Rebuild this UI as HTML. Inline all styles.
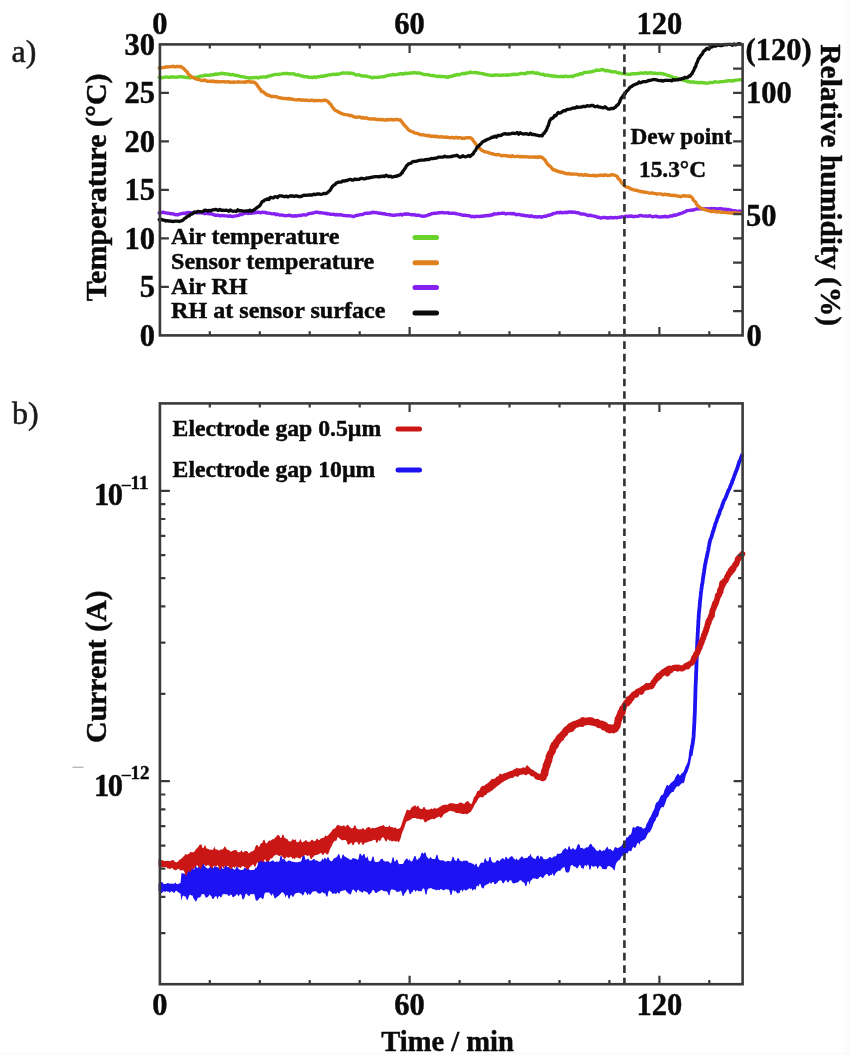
<!DOCTYPE html>
<html lang="en"><head><meta charset="utf-8"><title>Figure</title>
<style>
html,body{margin:0;padding:0;background:#fff;}
body{width:855px;height:1064px;overflow:hidden;}
svg{display:block;filter:blur(0.7px);}
</style></head><body>
<svg width="855" height="1064" viewBox="0 0 855 1064">
<rect width="855" height="1064" fill="#fff"/>
<rect x="844.3" y="0" width="1.8" height="1054.4" fill="#fcfcfc"/><rect x="846.8" y="0" width="2.4" height="1054.4" fill="#fbfbfb"/>
<rect x="0" y="1052.5" width="849.2" height="1.9" fill="#fbfbfb"/>
<rect x="72.5" y="766.6" width="11" height="1.4" fill="#b8b8b8"/>
<g fill="none" stroke-linecap="round" stroke-linejoin="round">
<polyline stroke="#8522f2" stroke-width="3.4" points="159.2,213 160.2,212.7 161.5,212.7 163,212.2 164.5,212.7 166,212.9 167.5,213.2 168.9,213.3 170.4,213.7 171.9,213.8 173.4,213.9 174.9,214.6 176.3,214.7 177.8,214.8 179.3,214.2 180.8,213.8 182.3,213.6 183.8,213.1 185.2,213.5 186.7,212.7 188.2,212.5 189.7,212.6 191.2,213 192.7,212.7 194.2,212.4 195.7,212.5 197.2,212.9 198.7,212.8 200.2,212.7 201.7,212.9 203.2,213.2 204.7,213.7 206.2,213.1 207.6,213.5 209.1,213.7 210.6,213.6 212.1,214.2 213.5,214.5 215,215.3 216.5,215.2 218,215.1 219.5,215.8 221,215.7 222.5,215.4 224,215.8 225.5,215.9 227,215.9 228.5,216.3 229.9,215.8 231.4,216.3 232.9,216.5 234.4,216.2 235.9,215.9 237.3,215.6 238.8,215.4 240.2,214.4 241.7,214.5 243.2,213.5 244.6,213.5 246.1,212.9 247.6,213.5 249.1,213.4 250.6,213 252.1,213.3 253.6,212.6 255.1,212.7 256.6,212.6 258.1,212.2 259.6,212.5 261.1,212.8 262.6,212 264.1,212.5 265.5,212.4 267,213.1 268.5,213.1 270,213.4 271.5,213.7 272.9,213.9 274.4,213.7 275.9,214.7 277.4,214.2 278.9,214.8 280.3,215.1 281.8,214.9 283.3,215.3 284.8,215.7 286.3,215.6 287.8,215.5 289.3,215.1 290.8,215.8 292.3,216 293.8,216 295.3,215.8 296.8,216 298.3,215.5 299.7,215.5 301.2,215.5 302.7,214.9 304.2,214.8 305.7,215.1 307.1,214.5 308.6,213.6 310,213.5 311.5,213.3 313,213.1 314.4,212.6 315.9,212.2 317.4,212.2 318.9,212.7 320.3,212.8 321.8,212.8 323.3,213.1 324.8,213.2 326.3,213.7 327.8,213.5 329.3,214 330.8,214.3 332.3,214.4 333.7,214.2 335.2,214.9 336.7,214.5 338.2,215 339.7,214.8 341.2,214.7 342.7,215.4 344.2,215.5 345.7,215.6 347.2,215.8 348.7,215.7 350.2,215.9 351.7,216.1 353.2,216.5 354.6,216.1 356.1,215.5 357.6,215.4 359,214.9 360.5,214.6 362,214.6 363.5,214 364.9,213.4 366.4,213.3 367.9,213.3 369.4,213 370.8,213 372.3,212.3 373.8,212.5 375.3,212.5 376.7,212.6 378.2,213.1 379.7,213.2 381.2,213.2 382.7,213.9 384.1,213.6 385.6,214.2 387.1,214.4 388.6,214.7 390.1,214.7 391.5,215.1 393,215.2 394.5,215.4 396,214.9 397.5,214.9 399,214.7 400.5,214.3 402,215.1 403.5,214.3 405,213.8 406.4,214.4 407.9,213.9 409.4,214.4 410.9,214.7 412.4,214.6 413.9,214.8 415.4,215 416.8,215.4 418.3,215.2 419.8,215.5 421.3,216 422.8,216.3 424.2,216 425.7,216 427.2,215.4 428.6,214.7 430.1,214.5 431.5,213.6 433,213.5 434.4,213.2 435.9,213.2 437.4,213.1 438.9,212.7 440.4,212.7 441.9,212.4 443.4,212.8 444.9,212.9 446.4,212.9 447.9,212.6 449.4,213.4 450.9,213.3 452.4,213.2 453.8,213.3 455.3,213.5 456.8,213.9 458.3,214.1 459.8,214.4 461.3,214.8 462.7,215.2 464.2,215.3 465.7,215.3 467.2,215.6 468.7,215.7 470.1,215.9 471.6,216.7 473.1,216.3 474.6,216.9 476.1,216.3 477.6,216.4 479.1,216.5 480.6,216.2 482.1,216.2 483.6,216 485.1,215.8 486.6,215.7 488.1,215.3 489.5,215.6 491,214.9 492.5,215.1 494,213.7 495.4,214.1 496.9,213.9 498.4,213.5 499.9,213.6 501.3,213.3 502.8,213.1 504.3,213.3 505.8,214 507.3,213.5 508.8,213.6 510.3,213.5 511.8,213.8 513.3,213.5 514.8,213.9 516.3,214.7 517.8,214.4 519.3,214.5 520.8,214.8 522.3,215.3 523.7,215.2 525.2,215.8 526.7,215.8 528.2,215.9 529.7,216.5 531.1,215.7 532.6,216.4 534.1,216.9 535.6,216.7 537.1,217 538.6,216.8 540.1,216.6 541.6,217.3 543,216.6 544.5,216.2 546,216.3 547.4,215.5 548.9,215.3 550.3,214.8 551.7,214.6 553.2,213.4 554.6,213.5 556,213 557.5,212.4 559,212.8 560.5,212.2 562,212.8 563.5,212.5 565,212.5 566.5,212.3 568,212.5 569.5,211.8 571,212.2 572.5,212 574,212.3 575.5,212.3 576.9,212.8 578.4,212.7 579.9,213.7 581.3,214.1 582.8,213.8 584.3,214.2 585.7,214.6 587.2,215.2 588.7,215.7 590.1,215.2 591.6,215.7 593.1,215.9 594.5,216.2 596,216.4 597.5,217.2 598.9,217.1 600.4,218 601.9,217.9 603.4,217.5 604.9,217.5 606.4,217.7 607.9,218.2 609.4,217.7 610.9,217.5 612.4,217.8 613.9,217.8 615.4,217.4 616.9,217.8 618.4,217.4 619.9,217.3 621.4,216.8 622.9,216.9 624.4,216.7 625.9,216.1 627.4,216.6 628.9,216 630.4,216.4 631.9,216 633.4,216.8 634.9,216.3 636.4,216.4 637.9,216.3 639.4,215.7 640.9,215.4 642.4,215.9 643.9,216.1 645.4,215.9 646.9,216.1 648.4,216.2 649.9,215.7 651.3,216.3 652.8,216.9 654.3,216.4 655.8,216.1 657.3,216.7 658.8,216.8 660.3,217.1 661.8,216.7 663.3,216.9 664.8,216.2 666.3,216.8 667.8,216.8 669.3,216.6 670.8,215.8 672.3,216.1 673.7,215 675.2,215.4 676.6,214.9 678,214.2 679.4,214 680.8,213.4 682.2,213.1 683.6,212.3 685.1,211.8 686.5,210.8 687.9,210.6 689.4,210.4 690.8,210.3 692.3,209.9 693.8,210 695.3,209.1 696.7,209 698.2,208.9 699.7,208.7 701.2,208.8 702.7,208.6 704.2,209.1 705.7,208.6 707.2,209 708.7,208.7 710.2,209.1 711.7,208.4 713.2,208.8 714.7,208.6 716.2,208.8 717.7,209.1 719.2,208.6 720.7,208.7 722.2,209 723.7,209.4 725.2,209.1 726.7,209.7 728.2,209.5 729.7,209.8 731.1,210.2 732.6,210.6 734.1,210.6 735.6,210.9 737.1,211.2 738.5,211.4 739.9,211 740.8,211.8"/>
<polyline stroke="#69d32c" stroke-width="3.4" points="159.2,77.4 160.2,77.6 161.5,77.8 163,77.4 164.5,77.2 166,76.9 167.5,77.1 169,77.3 170.5,77.3 172,76.8 173.5,77 175,77.1 176.5,77.3 178,76.9 179.5,76.8 181,76.8 182.5,77 184,77 185.5,77.4 187,77.6 188.5,77.6 190,77.8 191.5,77.4 193,77.6 194.5,77.4 196,77.3 197.4,77.3 198.9,76.7 200.4,76 201.9,76.1 203.3,75.7 204.8,75.2 206.3,75.2 207.8,75.4 209.3,75.4 210.8,74.7 212.2,74.9 213.7,74.8 215.2,74 216.7,74.2 218.2,74 219.7,73.9 221.2,73.3 222.7,73.5 224.2,73.8 225.7,73.8 227.2,74.2 228.6,73.9 230.1,74.7 231.6,74.7 233.1,74.4 234.5,75.2 236,75.2 237.5,75.7 239,75.9 240.4,76.5 241.9,76.6 243.4,76.7 244.8,77.3 246.3,77.5 247.8,77.6 249.3,78.2 250.7,77.8 252.2,77.8 253.7,77.7 255.2,77.4 256.7,77.5 258.2,78 259.7,77.2 261.2,77.4 262.7,76.9 264.2,76.9 265.7,77.2 267.2,76.7 268.6,76 270.1,75.9 271.6,75.3 273,75 274.5,74.7 276,74.4 277.4,74.4 278.9,74.3 280.4,74.1 281.9,73.8 283.4,73.4 284.9,73.6 286.4,73.3 287.9,73.7 289.4,73.7 290.9,73.9 292.3,73.9 293.8,73.8 295.3,74.7 296.8,75.1 298.2,74.7 299.7,75.4 301.2,76 302.6,75.9 304.1,76.9 305.5,76.6 307,76.6 308.5,77.4 310,77.2 311.5,77.1 313,77.5 314.5,76.7 316,77.5 317.5,76.7 319,76.7 320.4,76.3 321.9,76.3 323.4,76.2 324.9,75.5 326.4,75.7 327.9,75.2 329.3,74.9 330.8,74.8 332.3,74.4 333.8,74.2 335.3,74.5 336.8,74 338.3,74.2 339.8,73.8 341.3,73.3 342.7,72.9 344.2,73 345.7,73.1 347.2,73 348.7,72.9 350.2,73.6 351.6,73.2 353.1,73.6 354.6,74.3 356.1,75.1 357.5,74.9 359,74.9 360.5,75.5 361.9,75.8 363.4,76.1 364.9,76 366.4,76.1 367.9,76.6 369.4,76.9 370.9,77.4 372.3,77.8 373.8,77.2 375.3,77.4 376.8,77.4 378.3,77.2 379.8,77.1 381.2,76.9 382.7,76.6 384.2,76.7 385.7,76.1 387.2,75.6 388.7,75.2 390.1,75.2 391.6,74.9 393.1,74.5 394.6,74.9 396.1,74.6 397.6,74.3 399.1,74 400.6,73.7 402.1,73.7 403.5,74.2 405,73.1 406.5,73.5 408,73.5 409.5,73.2 411,72.9 412.5,73 414,72.5 415.5,72.8 417,73.2 418.4,72.8 419.9,73.1 421.4,73.6 422.9,74.1 424.3,74.5 425.8,74.6 427.3,74.6 428.8,74.8 430.2,75.4 431.7,75.6 433.2,75.5 434.7,75.9 436.2,76.1 437.7,76.5 439.2,76.1 440.7,76.6 442.2,76.3 443.7,76.6 445.2,76.7 446.7,77 448.1,77.4 449.6,76.5 451.1,76.3 452.6,76.1 454,75.1 455.5,75.3 456.9,74.4 458.4,74.8 459.9,74.5 461.3,74 462.8,73.4 464.3,73.8 465.8,73.2 467.3,73 468.8,72.9 470.3,72.1 471.7,72.5 473.2,72.6 474.7,72.5 476.2,72.7 477.7,72.7 479.1,73.3 480.6,73.4 482.1,73.7 483.6,73.8 485.1,74.4 486.5,74.7 488,74.8 489.5,75.1 491,75.3 492.5,75.5 494,75.2 495.5,75 497,75 498.5,75.1 500,75.2 501.5,75.3 503,75 504.5,75.1 506,74.8 507.5,75.4 509,74.9 510.5,74.9 512,74.5 513.5,74.5 515,74.2 516.5,74.6 518,74.2 519.4,73.9 520.9,73.5 522.4,73.4 523.9,73.6 525.4,73.7 526.9,72.8 528.4,72.7 529.9,72.8 531.4,72.5 532.9,72.3 534.4,72.8 535.8,73.3 537.3,72.9 538.8,73.6 540.3,74.1 541.7,74.4 543.2,74.3 544.7,75.2 546.2,75.1 547.7,75 549.1,75.7 550.6,75.4 552.1,76.2 553.6,75.8 555.1,76.5 556.6,76.2 558.1,76.6 559.6,76.6 561.1,76.5 562.6,76.4 564.1,76.7 565.6,76 567.1,76.6 568.6,76.5 570,76.4 571.5,76.2 573,76.6 574.4,75.4 575.9,75.2 577.4,74.7 578.8,74.7 580.3,73.5 581.8,74.1 583.2,73.1 584.7,72.4 586.1,72.4 587.6,72.3 589.1,72.1 590.6,71.8 592,71.7 593.5,71.2 595,70.9 596.4,70 597.9,70.4 599.4,70.3 600.9,69.8 602.3,69.5 603.8,69.8 605.3,70.8 606.8,70.5 608.2,70.8 609.7,71 611.2,71.7 612.6,71.7 614.1,71.8 615.6,71.9 617.1,72.5 618.6,73.1 620.1,73 621.5,73.5 623,73.6 624.5,73.8 626,74.1 627.5,74.1 629,74.4 630.4,74.2 631.9,73.8 633.4,73.9 634.9,73.7 636.4,73.7 637.9,73.5 639.4,73.4 640.9,72.9 642.4,73.2 643.9,73.3 645.4,72.6 646.9,73.3 648.4,73 649.9,73 651.4,72.7 652.9,73.5 654.4,73.1 655.9,73.3 657.4,73.7 658.9,73.4 660.4,73.5 661.9,73.6 663.4,74 664.8,74.4 666.3,74.8 667.7,75.3 669.1,75.6 670.5,76.3 671.9,76.6 673.3,77.8 674.7,77.9 676.1,77.8 677.6,78.5 679,79.5 680.5,79.1 681.9,79.7 683.4,80.3 684.8,80.3 686.3,81.2 687.8,81.7 689.2,81.4 690.7,82.2 692.2,81.9 693.7,82 695.1,82.4 696.6,82.5 698.1,82.4 699.6,82.9 701.1,82.4 702.6,82.7 704.1,82.7 705.6,83.2 707.1,83.1 708.6,83 710.1,82.4 711.6,82.6 713.1,82.5 714.6,81.8 716.1,81.9 717.6,82.1 719.1,82 720.6,81.7 722.1,81.6 723.6,81.5 725.1,81.3 726.6,81.1 728,80.7 729.5,80.8 731,80.6 732.5,81.1 734,80.5 735.5,80.3 737,80.1 738.5,79.9 739.8,79.8 740.8,79.9"/>
<polyline stroke="#e0801f" stroke-width="3.4" points="159.2,68 160.2,68.1 161.5,67.5 163,67.6 164.5,67.5 166,66.8 167.4,67 168.9,66.9 170.4,66.6 171.9,66.6 173.4,66.2 174.9,67 176.4,66.5 178,66.4 179.4,66.9 180.9,66.4 182.2,67.6 183.3,68.2 184.4,69.3 185.3,70.3 186.3,71.2 187.3,72.1 188.2,74.1 189.2,74.8 190.3,75.7 191.5,77.1 192.8,77.3 194.2,78 195.5,78.7 196.9,79.2 198.4,79.4 199.8,79.8 201.3,80.5 202.8,80.6 204.3,79.9 205.8,80.4 207.2,81.2 208.7,81.2 210.2,81.2 211.7,81.6 213.2,80.9 214.7,81.7 216.2,81.5 217.8,81.7 219.3,81.7 220.8,81.9 222.3,81.6 223.8,81.6 225.3,82 226.8,81.9 228.3,81.6 229.8,82.2 231.3,82.2 232.8,82.3 234.3,82 235.8,82.1 237.3,82 238.8,81.8 240.3,82.1 241.8,82.1 243.3,81.9 244.8,82.4 246.3,81.6 247.8,81.7 249.3,81.7 250.8,82.2 252.3,81.9 253.6,82.2 254.9,82.7 255.9,83.6 256.9,84.6 257.9,86.4 258.8,87.5 259.7,88.8 260.6,89.6 261.5,91.5 262.6,91.6 263.8,92.2 265,93.5 266.3,94.3 267.7,95.2 269,95.3 270.4,96.1 271.9,96.7 273.4,96.3 274.9,96.6 276.4,96.6 277.8,97.4 279.3,97.8 280.8,98 282.3,98.2 283.8,98.6 285.3,98.4 286.8,98.8 288.3,98.5 289.8,98.7 291.2,99.2 292.7,99.1 294.2,99.6 295.7,99.9 297.2,99.8 298.7,99.6 300.2,99.7 301.7,100.3 303.2,99.9 304.7,100.2 306.2,100.2 307.7,100.3 309.2,100.6 310.7,100.3 312.2,100.1 313.7,100.8 315.3,100.5 316.8,100.6 318.3,100.4 319.8,100.6 321.3,100.7 322.8,100.6 324.3,100.2 325.7,100.3 327,100.9 328.1,101.6 329,102.8 329.9,103.7 330.9,104.5 331.8,106.3 332.8,107.6 333.8,108.7 334.8,110 336,110.7 337.2,111.1 338.6,112.2 339.9,112.6 341.3,113.5 342.7,113.8 344.1,114.3 345.6,114.6 347,114.9 348.5,114.9 349.9,115.7 351.4,115.4 352.9,116.4 354.3,116.8 355.8,117.3 357.3,117.1 358.8,117 360.3,117 361.8,118.1 363.3,117.5 364.8,118.3 366.2,117.7 367.7,118.5 369.2,118.9 370.7,119 372.2,119 373.7,118.9 375.2,119 376.7,119.6 378.2,119.5 379.7,119.5 381.2,119.7 382.7,119.5 384.2,120 385.7,120.1 387.2,119.5 388.7,119.7 390.2,119.9 391.7,119.4 393.2,120 394.7,119.8 396.2,119.3 397.7,119.7 399.1,120.1 400.3,119.9 401.3,121.4 402.2,122.3 403.1,123.5 404,124.9 405,125.8 405.9,126.7 406.9,127.8 407.9,129.2 409.1,130.3 410.3,130.9 411.7,131.5 413.1,132 414.5,132.9 415.9,133.2 417.3,133.4 418.8,134 420.2,134.8 421.7,134.6 423.2,134.9 424.6,135.2 426.1,135.2 427.6,135.9 429.1,135.3 430.6,136.5 432.1,136.2 433.6,136.1 435.1,136.7 436.6,136.2 438.1,136.9 439.6,137 441.1,136.8 442.6,136.9 444.1,137.3 445.6,137 447.1,137.2 448.6,137.4 450.1,137.8 451.6,137.4 453.1,137.7 454.6,138.1 456.1,137.3 457.6,138 459.1,137.6 460.6,137.6 462.1,138.5 463.6,138 465.1,138.2 466.6,137.7 468.1,137.8 469.5,137.6 470.8,137.9 471.9,138.8 472.8,139.9 473.7,141.4 474.6,142.2 475.4,143.6 476.4,144.6 477.4,145.8 478.4,146.6 479.4,148.3 480.4,149 481.5,150.1 482.8,150.7 484.1,151.6 485.6,151.9 487,152.2 488.5,152.6 489.9,153.1 491.4,153.6 492.8,153.8 494.3,154.3 495.8,154.7 497.3,154.7 498.7,154.4 500.2,155.4 501.7,155.8 503.2,155.4 504.7,155.6 506.2,155.4 507.7,156.2 509.2,155.9 510.7,156.7 512.2,155.6 513.7,156.4 515.2,156.6 516.7,156.4 518.2,156.3 519.7,156.7 521.2,156.5 522.7,156.7 524.2,156.8 525.7,156.7 527.2,156.9 528.7,157.2 530.2,156.9 531.7,157.1 533.2,156.9 534.7,157.4 536.2,156.9 537.7,157.5 539.2,156.6 540.7,157.2 542.1,157.3 543.3,158.6 544.3,159.3 545.1,160.1 546,161.6 546.8,163.3 547.7,164.1 548.7,165.4 549.8,165.9 550.9,166.9 552,168.4 553.2,169.8 554.4,169.8 555.8,170.7 557.2,170.8 558.6,171.8 560.1,171.8 561.5,172.3 562.9,172.4 564.4,173.1 565.9,173.5 567.4,173.9 568.9,173.5 570.4,174.1 571.8,174 573.3,174.1 574.8,174.1 576.3,174.1 577.8,174.3 579.3,175.1 580.8,174.5 582.3,174.8 583.8,175.3 585.3,174.5 586.8,175.3 588.3,175.1 589.8,175.4 591.3,175.6 592.8,175.4 594.3,175.5 595.8,175.7 597.4,175.7 598.9,175.3 600.4,175.3 601.9,175 603.4,175.6 604.9,174.9 606.4,175.2 607.9,175.6 609.4,175.3 610.9,175 612.4,174.8 613.8,174.9 615.2,175.5 616.4,175.9 617.4,176.8 618.2,178.6 619.1,179 620,180.3 620.9,181.5 621.8,182.9 622.8,184 623.8,185 624.9,186.2 626.1,186.9 627.5,187.4 628.8,187.4 630.2,188.8 631.6,189 633,189.6 634.5,190.1 635.9,190.2 637.4,190.6 638.9,191.1 640.3,191.3 641.8,191.8 643.3,191.8 644.7,192.3 646.2,192.3 647.7,192.7 649.2,193.1 650.7,193.1 652.2,192.9 653.7,193.4 655.2,193.6 656.7,194 658.2,193.9 659.7,193.9 661.2,193.9 662.7,194.8 664.2,194.3 665.7,194.4 667.2,194.8 668.6,194.5 670.1,195.4 671.6,195.3 673.1,195.5 674.6,195.3 676.1,195.6 677.6,196.1 679.1,196.2 680.6,196.7 682.1,196.3 683.6,195.5 685.1,196 686.6,195.9 688.1,196.2 689.6,196 690.8,196.6 691.8,197.3 692.7,198.6 693.5,200.1 694.3,200.9 695.2,201.7 696.1,203.2 697,205 698,205.8 699,206.7 700.2,207.4 701.5,208.6 702.9,209 704.3,209.4 705.7,209.9 707.1,210.4 708.6,210.7 710,211.2 711.5,211.6 713,211 714.5,211.3 716,211.8 717.5,212 719,211.7 720.5,212.1 722,212.3 723.5,212.4 725,212.4 726.5,212.6 728,212.9 729.5,212.9 731,213 732.5,213 734,212.8 735.5,212.9 737,213.3 738.5,213.2 739.8,213.4 740.8,213.3"/>
<polyline stroke="#0a0a0a" stroke-width="3.3" points="159.2,219.6 160.1,219.9 161.5,219.3 162.9,220.1 164.4,220.2 165.9,221 167.4,220.6 168.9,221.2 170.4,221 171.9,221.4 173.4,221.5 174.9,221.1 176.4,221.2 177.9,221.2 179.4,221.5 180.8,220.9 182.2,220.6 183.4,219.7 184.5,218.5 185.5,218 186.7,217.1 187.9,215.8 189.2,215.9 190.5,214.2 191.8,214.1 193.2,213.3 194.5,212 196,212.3 197.5,211.4 198.9,211.7 200.4,211.7 201.9,211.9 203.3,211.2 204.8,210.1 206.3,210.4 207.8,211 209.3,210.4 210.8,210.9 212.3,209.9 213.8,209.8 215.3,209.4 216.8,209.7 218.3,210.4 219.8,209.5 221.3,210.3 222.8,210.2 224.3,210.5 225.8,210.2 227.3,210.4 228.8,211.3 230.3,210 231.8,210.9 233.3,211.3 234.8,211 236.3,211.5 237.8,209.7 239.3,210.9 240.8,210.6 242.3,210.9 243.8,211.1 245.3,211.2 246.8,210.7 248.3,211.3 249.8,210.2 251.3,211.2 252.8,210.6 254.2,209.7 255.4,209 256.4,208.1 257.4,207.3 258.4,206.6 259.4,206 260.4,204.7 261.5,202.7 262.5,201.3 263.6,201.1 264.8,199.8 266.1,199.6 267.5,198.8 268.9,199.5 270.3,197.3 271.7,197.7 273.2,198 274.6,196.9 276.1,196.6 277.6,197.5 279.1,195.8 280.6,195.9 282.1,196 283.6,196.5 285.1,196.6 286.6,196.1 288.1,197 289.6,196 291.1,196 292.6,195.9 294.1,196.5 295.6,196 297.1,195.8 298.6,196.7 300.1,196.5 301.6,196.3 303.1,195.3 304.6,195.2 306.1,195.4 307.6,195.2 309.1,195 310.6,194.9 312.1,195.1 313.6,194.2 315.1,194.6 316.6,194.2 318.1,194 319.6,194 321.1,194.3 322.6,194 324.1,193.4 325.5,193.6 326.8,193.1 327.9,192.4 329,191.1 329.9,190.5 330.8,189.1 331.8,187.3 332.8,186.1 333.9,185 334.9,184.7 336,183.3 337.2,182.6 338.6,182.1 340,182.1 341.4,182.1 342.9,180.8 344.3,181.2 345.8,180.4 347.3,180.5 348.8,179.8 350.3,179.3 351.8,180 353.3,180.2 354.8,179 356.2,179.5 357.7,179.4 359.2,179.4 360.7,178.4 362.2,178.4 363.7,178.8 365.2,178.9 366.6,178 368.1,178.1 369.6,177.6 371.1,177.5 372.6,177 374.1,176.9 375.6,176.6 377.1,176.7 378.6,177 380.1,176.4 381.6,176.5 383,176 384.5,176.6 386,175.2 387.5,176 389,176.6 390.5,176.1 392,177 393.5,176.8 395,176.2 396.5,176.4 397.9,175.5 399.2,175.3 400.4,174.8 401.3,173.2 402.1,173.1 402.9,171.1 403.7,170.5 404.6,168.8 405.5,167.8 406.3,166.1 407.3,165.2 408.3,164.1 409.5,163.6 410.8,163.3 412.2,161.9 413.6,161.5 415,161.3 416.5,161.3 418,160.7 419.5,160.4 421,160.2 422.4,160.2 423.9,160.2 425.4,159.6 426.9,159.5 428.4,159.7 429.8,159 431.3,158.5 432.8,158.7 434.3,158.4 435.7,158.1 437.2,157.8 438.7,157.1 440.2,157.2 441.7,157.2 443.2,157 444.7,156.2 446.2,156.8 447.7,156.9 449.2,156.8 450.7,156.5 452.2,156.5 453.7,155.8 455.2,155.8 456.7,155.2 458.2,156.2 459.7,157 461.2,157 462.7,155.8 464.2,156.6 465.7,156.8 467.2,156.2 468.7,155.5 470,156.6 471.3,155.4 472.2,154.4 473.1,154.1 473.9,152.3 474.7,151.2 475.6,150.3 476.5,148.4 477.4,146.9 478.4,146.5 479.4,145.1 480.4,144.3 481.5,143.1 482.7,141.7 483.9,141.3 485.3,140.5 486.6,139.8 487.9,139.2 489.3,138.7 490.7,138.1 492.1,137 493.5,137.3 495,136.1 496.4,137.2 497.8,135.5 499.3,135.4 500.7,135.6 502.2,134.6 503.7,133.9 505.1,133.6 506.6,134.1 508.1,134 509.6,134 511.1,133.6 512.6,133.1 514.1,133.3 515.6,133.5 517.1,132.5 518.6,134.2 520.1,132.7 521.5,133.5 523,134 524.5,133.8 526,133.7 527.5,134.1 529,134.5 530.5,133.2 532,134.6 533.4,134.5 534.9,134.6 536.4,135.2 537.9,135.4 539.4,135.8 540.8,135.5 542.1,135.9 543.2,133.9 544.1,133.3 544.9,132 545.7,131.2 546.4,129.7 547,128.7 547.5,126.8 548,126.2 548.6,124.6 549.1,122.7 549.7,120.8 550.4,119.7 551.3,118.4 552.4,118.5 553.5,117.3 554.6,115.5 555.8,115.8 557,114.1 558.2,112.5 559.6,113.2 560.9,112.7 562.3,111.6 563.7,110.7 565.1,110.9 566.5,109.7 567.9,109.4 569.4,109.2 570.8,108.9 572.3,108.3 573.8,107.8 575.3,108.2 576.7,106.8 578.2,107.5 579.7,107.2 581.2,107.1 582.7,106.5 584.1,106.5 585.6,106.6 587.1,105.7 588.6,106 590.1,106 591.6,105.3 593.1,105.5 594.6,106.6 596.1,106.6 597.6,106.1 599,107 600.5,107.1 602,107.7 603.5,107.9 605,106.7 606.4,107.9 607.9,108.8 609.4,109.2 610.8,108.5 612.2,108.3 613.5,108.6 614.7,107.6 615.8,106.9 616.8,105.3 617.8,105 618.7,103.7 619.5,102.4 620.2,100.4 620.9,98.9 621.7,97.7 622.4,97.2 623.3,95 624.1,94.8 625,94 626,91.9 626.9,90.9 627.8,90.2 628.8,89 629.9,87.4 631.1,86.7 632.3,86 633.6,85 634.9,84.6 636.2,83.8 637.6,83.6 639,82 640.4,82.8 641.9,82.3 643.4,81.6 644.8,81.6 646.3,81.5 647.8,80.9 649.2,80.4 650.7,80.3 652.2,79.8 653.7,79.5 655.2,79.7 656.7,79.9 658.2,80.3 659.7,80.6 661.2,80.5 662.7,81.1 664.2,80.5 665.7,80.4 667.2,80.4 668.7,80.3 670.2,80.4 671.7,80.9 673.2,79.6 674.6,80.2 676.1,79.8 677.6,79.9 679.1,79.2 680.6,79.4 682,78.5 683.5,78.6 684.9,77.2 686.4,77.8 687.8,77.4 689.1,75.9 690.2,76.1 691.2,74.2 692,73.8 692.7,72.1 693.4,71.1 694.1,69.6 694.7,67.6 695.3,67.3 695.9,65.8 696.4,63.5 697,62.8 697.6,61.4 698.2,59.5 698.9,58.1 699.6,57.7 700.5,55.8 701.3,55.1 702.1,54.2 703,52.4 703.9,50.8 705,50.5 706.3,48.8 707.6,48.3 708.9,49.2 710.3,47.1 711.7,47 713.1,46.1 714.6,46.2 716.1,46.1 717.6,44.7 719,45.3 720.5,45.6 722,45.5 723.5,45.1 725,44.4 726.5,44.8 728,44.4 729.5,44.3 731,44.5 732.5,45.4 734,44 735.5,44.8 737,44.4 738.5,43.6 739.8,43.8 740.8,44.1"/>
</g>
<polygon fill="#1c12f2" points="158.5,883.6 159.5,883.3 160.5,883 161.5,882 162.5,882.2 163.5,884 164.5,884.1 165.5,884.1 166.5,883.8 167.5,883 168.5,883.1 169.5,884.1 170.5,883.4 171.5,883.7 172.5,883.8 173.5,883.8 174.5,883.5 175.5,882.6 176.5,883.9 177.5,884.2 178.5,883.7 179.5,883.2 180.5,883.3 181.5,873 182.5,873.2 183.5,873.5 184.5,874 185.5,872.5 186.5,867 187.5,866.5 188.5,870.9 189.5,870.9 190.5,865.6 191.5,865 192.5,868.3 193.5,869.4 194.5,869 195.5,864.8 196.5,867 197.5,868.3 198.5,866.9 199.5,864.6 200.5,866.7 201.5,866.9 202.5,862.9 203.5,862.7 204.5,866 205.5,866.7 206.5,867.9 207.5,868.6 208.5,868.5 209.5,867.4 210.5,865.7 211.5,865.9 212.5,868.1 213.5,868.1 214.5,866.1 215.5,866.6 216.5,866.9 217.5,867.3 218.5,867.6 219.5,868.2 220.5,866.5 221.5,866.6 222.5,868.8 223.5,868.9 224.5,866.9 225.5,865.2 226.5,864.7 227.5,867.6 228.5,866.7 229.5,867.6 230.5,868.5 231.5,868.7 232.5,868 233.5,869.3 234.5,869.7 235.5,868.9 236.5,866.2 237.5,867.1 238.5,869.1 239.5,869.6 240.5,870.1 241.5,870.1 242.5,870 243.5,869.4 244.5,867.6 245.5,868.4 246.5,866 247.5,866.8 248.5,868.3 249.5,869.9 250.5,870.3 251.5,870.1 252.5,870.1 253.5,870 254.5,869.5 255.5,867.8 256.5,867.8 257.5,865.4 258.5,860.6 259.5,859.4 260.5,860.5 261.5,860.6 262.5,860.3 263.5,860.5 264.5,861.6 265.5,862.3 266.5,861.2 267.5,857.4 268.5,860.8 269.5,861.9 270.5,861.4 271.5,861.1 272.5,860.4 273.5,860.6 274.5,862 275.5,862.1 276.5,861.2 277.5,861.7 278.5,861.9 279.5,860.7 280.5,855.9 281.5,855.7 282.5,859.4 283.5,859 284.5,859.1 285.5,861 286.5,861.7 287.5,861.5 288.5,860.5 289.5,860.4 290.5,860.9 291.5,861.6 292.5,861.8 293.5,862 294.5,862.1 295.5,862.3 296.5,862.3 297.5,862.2 298.5,862.1 299.5,861.8 300.5,861.7 301.5,860.8 302.5,855.8 303.5,854.5 304.5,855.7 305.5,860 306.5,859.6 307.5,858.9 308.5,858.5 309.5,860.7 310.5,860.6 311.5,860.4 312.5,860 313.5,859 314.5,859.1 315.5,860.5 316.5,860.6 317.5,860.8 318.5,861.5 319.5,861.7 320.5,861.5 321.5,860.4 322.5,858.3 323.5,860.1 324.5,858 325.5,857.9 326.5,859.8 327.5,857.3 328.5,857.2 329.5,860.1 330.5,861.1 331.5,861.2 332.5,860.7 333.5,858.8 334.5,858.2 335.5,857.7 336.5,857.3 337.5,855.8 338.5,854.1 339.5,854.7 340.5,858.7 341.5,858.7 342.5,854.8 343.5,854.4 344.5,856.6 345.5,856.8 346.5,857.6 347.5,858.2 348.5,858.4 349.5,859.4 350.5,859.7 351.5,859.7 352.5,858.3 353.5,858 354.5,858.6 355.5,858.8 356.5,859.1 357.5,859.9 358.5,859 359.5,854 360.5,853.4 361.5,855.5 362.5,855.7 363.5,853.8 364.5,854.3 365.5,857.9 366.5,857.8 367.5,856.2 368.5,860 369.5,861.2 370.5,861.3 371.5,860.3 372.5,856.4 373.5,856.4 374.5,861.2 375.5,862.1 376.5,862.1 377.5,862.1 378.5,861.7 379.5,861.2 380.5,859.5 381.5,858.9 382.5,858.6 383.5,860.7 384.5,861.3 385.5,861.5 386.5,861.5 387.5,861.2 388.5,861.4 389.5,862.4 390.5,863.5 391.5,862.5 392.5,857.4 393.5,857.3 394.5,861.8 395.5,861.3 396.5,859.4 397.5,860 398.5,863.5 399.5,864.3 400.5,864 401.5,864 402.5,864 403.5,863.2 404.5,860.8 405.5,859.8 406.5,858.5 407.5,858.8 408.5,860.8 409.5,859.1 410.5,861.3 411.5,861.6 412.5,860.8 413.5,858.3 414.5,855.9 415.5,856.1 416.5,859.5 417.5,859.9 418.5,858.6 419.5,857.9 420.5,856.3 421.5,853 422.5,852.6 423.5,854 424.5,852.4 425.5,852.6 426.5,856.3 427.5,857.5 428.5,858.8 429.5,858.6 430.5,856.8 431.5,858.3 432.5,859 433.5,859.1 434.5,859.2 435.5,858.2 436.5,854.8 437.5,855.1 438.5,859.1 439.5,860 440.5,860.3 441.5,860.5 442.5,860.3 443.5,860.5 444.5,861 445.5,861.9 446.5,861.3 447.5,860.9 448.5,861.1 449.5,861.2 450.5,861.4 451.5,860.5 452.5,856.9 453.5,856.8 454.5,859.7 455.5,860.7 456.5,861.1 457.5,858.2 458.5,858 459.5,860.3 460.5,860.9 461.5,861.2 462.5,861.6 463.5,860.6 464.5,860.7 465.5,860.8 466.5,860.5 467.5,861 468.5,862.2 469.5,862.9 470.5,862.5 471.5,863.2 472.5,863.8 473.5,863.8 474.5,865.7 475.5,863.7 476.5,863.7 477.5,866.8 478.5,867.3 479.5,865.1 480.5,863.2 481.5,862.5 482.5,862.6 483.5,863.3 484.5,858.9 485.5,858.2 486.5,860.8 487.5,861.4 488.5,860.9 489.5,857 490.5,856.7 491.5,860.9 492.5,862.2 493.5,862.5 494.5,862.7 495.5,862.2 496.5,860.5 497.5,860.2 498.5,860.5 499.5,861.4 500.5,859.7 501.5,858.9 502.5,858.1 503.5,858.4 504.5,859.9 505.5,857.1 506.5,856.7 507.5,858.8 508.5,858.9 509.5,857.5 510.5,856.9 511.5,856.1 512.5,856.4 513.5,858.2 514.5,859 515.5,859.9 516.5,858.3 517.5,860 518.5,860.2 519.5,858.8 520.5,857.8 521.5,856.4 522.5,856.5 523.5,858.6 524.5,858.2 525.5,858 526.5,858 527.5,857.8 528.5,856 529.5,856.3 530.5,853.6 531.5,856.4 532.5,857.6 533.5,858.2 534.5,858.8 535.5,859.3 536.5,856.6 537.5,855.7 538.5,855.4 539.5,859.1 540.5,855.9 541.5,856.2 542.5,857 543.5,859 544.5,859.3 545.5,859.2 546.5,859.2 547.5,858.8 548.5,858.2 549.5,856.9 550.5,856.9 551.5,858.2 552.5,857.7 553.5,856.8 554.5,856.2 555.5,856.5 556.5,855.4 557.5,853.2 558.5,853.9 559.5,853.8 560.5,853.6 561.5,853.1 562.5,850.8 563.5,849.7 564.5,848.8 565.5,847.9 566.5,849.2 567.5,850.1 568.5,846.5 569.5,846.3 570.5,849.3 571.5,849.6 572.5,848.2 573.5,848.3 574.5,849.6 575.5,849.7 576.5,848.1 577.5,845 578.5,843.9 579.5,844.5 580.5,848.3 581.5,848 582.5,847.7 583.5,848.9 584.5,848.8 585.5,847.7 586.5,847.3 587.5,847.5 588.5,846.8 589.5,844.7 590.5,843.7 591.5,844.3 592.5,846.3 593.5,847.1 594.5,847.7 595.5,849.5 596.5,850.4 597.5,850.9 598.5,850.9 599.5,849.5 600.5,849.8 601.5,851.3 602.5,851.1 603.5,850 604.5,850.8 605.5,849 606.5,847.8 607.5,846.5 608.5,849.2 609.5,849.2 610.5,849 611.5,849.9 612.5,851 613.5,850.5 614.5,847.7 615.5,846.9 616.5,847.4 617.5,848.2 618.5,847.8 619.5,847.2 620.5,846.5 621.5,845.8 622.5,844.2 623.5,841.5 624.5,841.6 625.5,840.2 626.5,837.3 627.5,837.5 628.5,836.5 629.5,834.8 630.5,834.8 631.5,833.1 632.5,828 633.5,826.7 634.5,828 635.5,827.6 636.5,826.6 637.5,825.9 638.5,826.3 639.5,826.8 640.5,827 641.5,827 642.5,828.3 643.5,828.7 644.5,828.3 645.5,827.5 646.5,823.9 647.5,822.6 648.5,820.5 649.5,818.1 650.5,816.9 651.5,814.7 652.5,812.3 653.5,810.4 654.5,808.2 655.5,804.3 656.5,802.5 657.5,802.1 658.5,800.7 659.5,798.8 660.5,796.2 661.5,794.9 662.5,794.9 663.5,793.4 664.5,790.1 665.5,788 666.5,785.6 667.5,784.7 668.5,786 669.5,784.7 670.5,783.4 671.5,782.4 672.5,781.5 673.5,780.9 674.5,779.5 675.5,776.9 676.5,775.6 677.5,774.1 678.5,773.8 679.5,775.6 680.5,775.3 681.5,773.5 682.5,772.9 683.5,771.7 684.5,769.5 685.5,766.5 686.5,764.9 687.5,762.4 688.5,757.7 689.5,752.5 690.5,746 691.5,744.4 692.5,740.4 692.5,749 691.5,756 690.5,761.3 689.5,766 688.5,768.9 687.5,771.9 686.5,773.8 685.5,776.5 684.5,781.2 683.5,783.2 682.5,782.9 681.5,783.4 680.5,784.4 679.5,785.7 678.5,786.6 677.5,786.2 676.5,786.8 675.5,788.2 674.5,789.8 673.5,792 672.5,791.9 671.5,792.6 670.5,793.5 669.5,794.9 668.5,796.8 667.5,797.2 666.5,799.2 665.5,802.5 664.5,804.9 663.5,807.4 662.5,806.7 661.5,807.6 660.5,808.8 659.5,811.1 658.5,815 657.5,817 656.5,817.4 655.5,820.5 654.5,821.7 653.5,823.7 652.5,826.7 651.5,828.9 650.5,831 649.5,832.5 648.5,832.6 647.5,834.2 646.5,836.4 645.5,838.4 644.5,839.4 643.5,840.1 642.5,840.6 641.5,840.9 640.5,841.6 639.5,845.1 638.5,842.7 637.5,842.9 636.5,845.3 635.5,847.4 634.5,848 633.5,846.8 632.5,847.7 631.5,850.7 630.5,851.6 629.5,850.5 628.5,851.4 627.5,853.4 626.5,853 625.5,854.6 624.5,858 623.5,855.6 622.5,855.4 621.5,856.5 620.5,858.6 619.5,860.1 618.5,860.5 617.5,861.6 616.5,862.7 615.5,865.2 614.5,870.9 613.5,869.4 612.5,868 611.5,867.2 610.5,866.8 609.5,866.1 608.5,865.9 607.5,866.5 606.5,869.3 605.5,869.2 604.5,869 603.5,869.3 602.5,868.9 601.5,867.3 600.5,866 599.5,865.8 598.5,867.3 597.5,869.2 596.5,866.3 595.5,866 594.5,866.5 593.5,866.7 592.5,866.5 591.5,865.2 590.5,869.6 589.5,869.7 588.5,865.1 587.5,864.6 586.5,866.5 585.5,865.1 584.5,865.6 583.5,869.3 582.5,868.1 581.5,868.3 580.5,865.4 579.5,864.8 578.5,866.4 577.5,868.5 576.5,867.9 575.5,866.8 574.5,866.7 573.5,866.3 572.5,865.1 571.5,864.9 570.5,866.2 569.5,871 568.5,872.4 567.5,872.5 566.5,872.6 565.5,871.5 564.5,867 563.5,867.2 562.5,868 561.5,868.7 560.5,870.4 559.5,870.9 558.5,870.5 557.5,871.5 556.5,872.2 555.5,873.3 554.5,875.7 553.5,875.6 552.5,873.1 551.5,875.3 550.5,874.8 549.5,876.1 548.5,876.2 547.5,874 546.5,873.9 545.5,874.8 544.5,875.7 543.5,877.6 542.5,878.2 541.5,877.1 540.5,876.5 539.5,877 538.5,878.6 537.5,879.1 536.5,878.9 535.5,878.4 534.5,878.4 533.5,878.2 532.5,878.8 531.5,880.2 530.5,880.7 529.5,884.5 528.5,881.3 527.5,881.4 526.5,885.8 525.5,886.2 524.5,883 523.5,882.3 522.5,881.9 521.5,880.6 520.5,880.2 519.5,880.6 518.5,882.1 517.5,882.4 516.5,882.5 515.5,883.1 514.5,883.3 513.5,883.4 512.5,882.9 511.5,880.7 510.5,880.1 509.5,880.6 508.5,882.2 507.5,882.2 506.5,880.4 505.5,880.3 504.5,881.9 503.5,883.4 502.5,883.1 501.5,880.8 500.5,880.2 499.5,880.5 498.5,880.9 497.5,882.5 496.5,883.2 495.5,884.3 494.5,884.1 493.5,882 492.5,881.9 491.5,883.4 490.5,883.4 489.5,882.2 488.5,883.9 487.5,884.2 486.5,884.5 485.5,885.3 484.5,885.8 483.5,888.8 482.5,888.1 481.5,887.4 480.5,883.9 479.5,884 478.5,886.8 477.5,885.5 476.5,886.2 475.5,890.2 474.5,889.1 473.5,889.4 472.5,890.7 471.5,888.2 470.5,889.2 469.5,888.1 468.5,888.9 467.5,889.4 466.5,890.6 465.5,890.5 464.5,889.4 463.5,889.8 462.5,891.7 461.5,889.7 460.5,890 459.5,893.2 458.5,893.1 457.5,893.4 456.5,892.2 455.5,890.5 454.5,891.7 453.5,889.9 452.5,890.5 451.5,895 450.5,895 449.5,890.4 448.5,889.4 447.5,889.4 446.5,889.3 445.5,889.2 444.5,890.1 443.5,890.3 442.5,889.9 441.5,889 440.5,889.1 439.5,890.3 438.5,889.7 437.5,889.7 436.5,890.5 435.5,889.8 434.5,889.4 433.5,889.3 432.5,889.1 431.5,888.3 430.5,888.1 429.5,888.4 428.5,888.5 427.5,889.7 426.5,894.5 425.5,894.5 424.5,889.4 423.5,888.3 422.5,889.1 421.5,891.5 420.5,890.9 419.5,891.2 418.5,891.2 417.5,890.2 416.5,890.5 415.5,891.9 414.5,890 413.5,889.9 412.5,892.1 411.5,892.6 410.5,894.3 409.5,893.8 408.5,889.8 407.5,889.2 406.5,891.1 405.5,892.6 404.5,893.5 403.5,896.1 402.5,895.7 401.5,891.4 400.5,890.5 399.5,891.5 398.5,891.7 397.5,891.8 396.5,892.1 395.5,890.3 394.5,890.1 393.5,889.7 392.5,889.5 391.5,889.2 390.5,890.4 389.5,895.3 388.5,895.1 387.5,891.9 386.5,891.2 385.5,891.3 384.5,891.3 383.5,890.9 382.5,890.5 381.5,889.8 380.5,890.6 379.5,891 378.5,891.6 377.5,892.1 376.5,893.1 375.5,893.1 374.5,891.4 373.5,889.9 372.5,890.1 371.5,892.4 370.5,893.3 369.5,894.6 368.5,894.5 367.5,892.6 366.5,891.9 365.5,891.4 364.5,891.3 363.5,891.1 362.5,893.1 361.5,891.9 360.5,891.5 359.5,891.3 358.5,889.5 357.5,890 356.5,892.9 355.5,891.4 354.5,890.6 353.5,889.4 352.5,889.7 351.5,892.4 350.5,894.7 349.5,893.9 348.5,893.4 347.5,892.5 346.5,891.8 345.5,890.1 344.5,890.3 343.5,890.6 342.5,890.8 341.5,890.9 340.5,891.3 339.5,893.4 338.5,893.5 337.5,892.1 336.5,893.6 335.5,893.9 334.5,893.2 333.5,893.4 332.5,894.1 331.5,892.2 330.5,891.4 329.5,890.5 328.5,891.5 327.5,896.2 326.5,896.7 325.5,893.7 324.5,893.3 323.5,893.1 322.5,891.9 321.5,892.6 320.5,893.4 319.5,893.6 318.5,893.4 317.5,893 316.5,891.5 315.5,891.2 314.5,891.3 313.5,891.4 312.5,891.7 311.5,893.1 310.5,894.8 309.5,894.6 308.5,893.2 307.5,895.5 306.5,893.3 305.5,891.7 304.5,892.2 303.5,895.1 302.5,895.4 301.5,893.7 300.5,893.4 299.5,892.7 298.5,892.6 297.5,892.9 296.5,893.1 295.5,893.5 294.5,894.2 293.5,896.7 292.5,896.8 291.5,894.9 290.5,895.2 289.5,898.7 288.5,898.6 287.5,895 286.5,894.9 285.5,897.5 284.5,894.3 283.5,893 282.5,892.2 281.5,892.4 280.5,894.1 279.5,894.8 278.5,896 277.5,896.4 276.5,897.2 275.5,898.4 274.5,898.1 273.5,895.1 272.5,893.4 271.5,896.1 270.5,894.3 269.5,892.8 268.5,892.6 267.5,892.6 266.5,892.6 265.5,892.5 264.5,893.7 263.5,898.5 262.5,899.3 261.5,897.7 260.5,897.6 259.5,898 258.5,899.5 257.5,900.5 256.5,900.8 255.5,899.6 254.5,894.8 253.5,893.7 252.5,894.3 251.5,894.2 250.5,894 249.5,896.2 248.5,895.8 247.5,895.1 246.5,893.5 245.5,894.1 244.5,897.8 243.5,899.2 242.5,899.5 241.5,895 240.5,893.9 239.5,894.7 238.5,896.6 237.5,894.6 236.5,894.3 235.5,895.7 234.5,896.3 233.5,897.3 232.5,897 231.5,894.7 230.5,894.5 229.5,895.8 228.5,895.9 227.5,894.5 226.5,894.3 225.5,894.3 224.5,893.9 223.5,893.9 222.5,894.5 221.5,897.1 220.5,897.4 219.5,895.7 218.5,896.4 217.5,899.4 216.5,896.3 215.5,896.2 214.5,896.9 213.5,899 212.5,899 211.5,896.6 210.5,895.6 209.5,894.6 208.5,896.3 207.5,897 206.5,897.7 205.5,897.3 204.5,894.7 203.5,894.1 202.5,894.1 201.5,894.6 200.5,897 199.5,897.5 198.5,897.5 197.5,898.3 196.5,901.1 195.5,901.4 194.5,899.6 193.5,898.4 192.5,895.5 191.5,895.4 190.5,894.7 189.5,894.8 188.5,897.3 187.5,900.5 186.5,898.9 185.5,896.4 184.5,896.3 183.5,895.6 182.5,896.3 181.5,900.7 180.5,893.4 179.5,893.2 178.5,892.3 177.5,891.8 176.5,890.7 175.5,890.9 174.5,892.7 173.5,892.6 172.5,892.1 171.5,891.1 170.5,892 169.5,892.8 168.5,891.6 167.5,891.7 166.5,891.1 165.5,891.7 164.5,891.7 163.5,891.2 162.5,892.2 161.5,893.2 160.5,893 159.5,891.3 158.5,890.9"/>
<polyline fill="none" stroke="#1c12f2" stroke-width="3.8" stroke-linejoin="round" points="690.6,755.8 690.8,753.9 691,753.2 691.3,751 691.5,749.5 691.8,748.4 692,746.5 692.3,745.8 692.5,744.5 692.8,742.4 693,741.2 693.2,739.9 693.4,738 693.6,736.4 693.7,734.8 693.7,733.7 693.8,732.1 693.9,730.3 694,729 694.1,727.9 694.1,726.3 694.2,724.8 694.3,723.5 694.4,722.1 694.5,720.4 694.5,718.9 694.6,717 694.7,715.5 694.8,714.2 694.8,712.5 694.9,710.9 694.9,709.7 695,707.9 695,706.4 695,705.3 695.1,703.7 695.1,701.9 695.2,700.4 695.2,699.2 695.3,697.8 695.3,696.1 695.3,694.4 695.4,693.2 695.4,691.5 695.5,690 695.5,688.6 695.6,687.2 695.6,685.4 695.7,683.5 695.8,682.4 695.8,681.2 695.9,679.8 696,678.1 696,676.4 696.1,675.4 696.1,673.1 696.2,671.8 696.3,670.4 696.3,669.3 696.4,667.1 696.4,665.5 696.5,664.6 696.5,662.7 696.6,661.5 696.6,659.5 696.7,658.4 696.7,656.2 696.7,655.3 696.8,654.2 696.8,652.1 696.9,650.7 696.9,649.5 697,648.2 697.1,646.3 697.2,645.1 697.2,643.5 697.3,641.8 697.4,640.1 697.5,638.9 697.5,637.6 697.6,636.3 697.7,634.1 697.8,632.6 697.9,631.4 697.9,630.3 698,628.3 698.1,626.9 698.2,625.2 698.3,624 698.3,622.7 698.4,620.7 698.5,619.3 698.6,618.2 698.7,616.4 698.8,614.6 698.9,613.1 699.1,612.2 699.2,610.3 699.4,609 699.5,607.4 699.7,606.2 699.8,604 699.9,602.5 700.1,601.1 700.2,599.5 700.4,598.9 700.5,597 700.7,595.5 700.8,594.1 701,592.3 701.2,590.9 701.4,589.1 701.6,588.4 701.8,586.2 702,584.8 702.3,583.7 702.5,582.3 702.7,580.9 702.9,578.8 703.2,577.6 703.4,575.8 703.6,574.3 703.8,573.6 704.1,571.7 704.3,569.1 704.5,568.9 704.8,566.6 705,565.3 705.3,563.6 705.6,562.7 705.9,560.9 706.2,559.2 706.5,558.5 706.8,556.5 707.1,555.6 707.4,553.7 707.7,552.3 708,551.1 708.3,549.6 708.6,547.7 708.9,546.4 709.2,544.9 709.5,543.2 709.8,541.7 710.2,540.3 710.7,538.7 711.1,537.9 711.6,536.8 712,535 712.5,533.4 712.9,531.5 713.4,530.7 713.8,529.2 714.3,527.7 714.7,526.4 715.2,524.5 715.6,523.1 716.1,522.1 716.6,521 717.1,518.9 717.7,517.6 718.2,516.1 718.7,514.9 719.3,513.8 719.8,511.4 720.3,510.2 720.8,509.2 721.4,508.1 721.9,506.6 722.4,504.7 723,503.4 723.5,501.9 724.1,500.4 724.7,499.6 725.3,498.3 725.9,497 726.5,495.5 727.1,493.9 727.7,492.4 728.3,490.7 728.9,489.6 729.5,488.8 730.1,486.9 730.7,485.4 731.3,484.2 731.9,482.9 732.4,480.7 732.9,480.1 733.4,478.4 733.9,477.1 734.4,475.6 735,474.2 735.5,472.5 736,471.6 736.5,470.2 737,469.1 737.5,467.5 738,465.8 738.5,464.4 739,462.5 739.6,461.1 740.1,460.1 740.6,459 741.1,457.4 741.6,456.2 742,455.2 742.4,453.7"/>
<polygon fill="#cb1616" points="158.5,859.2 159.5,859.4 160.5,859.7 161.5,859.9 162.5,860.2 163.5,860.7 164.5,860.9 165.5,861 166.5,861.1 167.5,860.7 168.5,860.8 169.5,861.2 170.5,861.1 171.5,860.4 172.5,860.1 173.5,860 174.5,861.6 175.5,862.1 176.5,862.2 177.5,862 178.5,860.9 179.5,859.4 180.5,859.4 181.5,858.6 182.5,857.5 183.5,856.4 184.5,855.6 185.5,854 186.5,854.5 187.5,854.4 188.5,854 189.5,853.3 190.5,851.7 191.5,852.2 192.5,852.3 193.5,852.3 194.5,851.6 195.5,849.8 196.5,848.8 197.5,847.7 198.5,846.7 199.5,844.7 200.5,844.5 201.5,844.5 202.5,848 203.5,847.9 204.5,845.5 205.5,845.7 206.5,848.5 207.5,848.8 208.5,849 209.5,849.7 210.5,849.7 211.5,849.6 212.5,850.1 213.5,849 214.5,846.4 215.5,849.4 216.5,849.5 217.5,849.6 218.5,850.6 219.5,850.6 220.5,849.4 221.5,849.3 222.5,849.7 223.5,848.2 224.5,846.6 225.5,846.9 226.5,849 227.5,849.7 228.5,850 229.5,850.4 230.5,851.4 231.5,851.6 232.5,851 233.5,850.3 234.5,850.2 235.5,849.9 236.5,850.2 237.5,851.9 238.5,852.3 239.5,852.3 240.5,851.8 241.5,850 242.5,852 243.5,852.4 244.5,851.2 245.5,851 246.5,851 247.5,851.5 248.5,853.3 249.5,853.1 250.5,852.1 251.5,851.4 252.5,851.2 253.5,850.7 254.5,849.6 255.5,846.5 256.5,845.1 257.5,845.1 258.5,847.1 259.5,846.6 260.5,843.7 261.5,843.2 262.5,842.4 263.5,839.9 264.5,839.8 265.5,842.9 266.5,843.4 267.5,842.6 268.5,841 269.5,840.5 270.5,840.8 271.5,840 272.5,839 273.5,839.5 274.5,838.3 275.5,837.5 276.5,836.3 277.5,835 278.5,835 279.5,835.9 280.5,838 281.5,837.8 282.5,834.6 283.5,834.8 284.5,838 285.5,838.3 286.5,838.7 287.5,839.3 288.5,841 289.5,841.5 290.5,841.6 291.5,841 292.5,839 293.5,839.7 294.5,839.9 295.5,839.2 296.5,841.8 297.5,842.4 298.5,841.9 299.5,840.9 300.5,838.7 301.5,841.6 302.5,842.5 303.5,841.8 304.5,841.3 305.5,840.2 306.5,840.2 307.5,841.6 308.5,841.9 309.5,841.7 310.5,841.3 311.5,839.8 312.5,839.7 313.5,840.9 314.5,841.3 315.5,840.8 316.5,838.9 317.5,838.7 318.5,840.3 319.5,840.1 320.5,838.8 321.5,838.2 322.5,838.1 323.5,837.7 324.5,837 325.5,835.2 326.5,836.2 327.5,836.1 328.5,834.8 329.5,833.7 330.5,832.6 331.5,831.4 332.5,829.7 333.5,828.8 334.5,828.8 335.5,827.8 336.5,825.9 337.5,824.8 338.5,825.2 339.5,825.5 340.5,825.8 341.5,826.3 342.5,826.1 343.5,825.3 344.5,825.7 345.5,826.9 346.5,825.5 347.5,824.7 348.5,825.3 349.5,827.1 350.5,827.5 351.5,828.6 352.5,828.3 353.5,827.5 354.5,825.3 355.5,825.6 356.5,828.5 357.5,828.9 358.5,829.2 359.5,829.6 360.5,829.3 361.5,829.2 362.5,828.2 363.5,828.2 364.5,829.7 365.5,829.7 366.5,828.1 367.5,827.5 368.5,827 369.5,827.1 370.5,828.4 371.5,828.4 372.5,827.6 373.5,828.2 374.5,828.2 375.5,827.9 376.5,827.5 377.5,827.2 378.5,826.8 379.5,826.5 380.5,826.1 381.5,825.9 382.5,825.5 383.5,824.8 384.5,826.2 385.5,826.9 386.5,826.8 387.5,827.1 388.5,826.8 389.5,825.1 390.5,827.2 391.5,826.9 392.5,827.1 393.5,828.3 394.5,827.6 395.5,827.3 396.5,828.8 397.5,828.9 398.5,828.6 399.5,828.6 400.5,827.3 401.5,824.8 402.5,821.5 403.5,818.4 404.5,815.8 405.5,813.3 406.5,810.2 407.5,809.6 408.5,809.9 409.5,810.5 410.5,809.6 411.5,807.5 412.5,806.7 413.5,806.2 414.5,805.4 415.5,805.5 416.5,807.2 417.5,805.8 418.5,806 419.5,808.2 420.5,808.8 421.5,809.1 422.5,809.1 423.5,806.9 424.5,806.9 425.5,809.1 426.5,809.7 427.5,809.5 428.5,809.6 429.5,809.8 430.5,808.8 431.5,808.6 432.5,809.3 433.5,808.8 434.5,807.4 435.5,808.6 436.5,808.7 437.5,808.2 438.5,807.7 439.5,807.1 440.5,806.5 441.5,805.7 442.5,805.3 443.5,805.1 444.5,804.8 445.5,804.5 446.5,804.9 447.5,804.7 448.5,804 449.5,803.4 450.5,803.1 451.5,803.2 452.5,803.2 453.5,803.4 454.5,803.5 455.5,804 456.5,804 457.5,803.9 458.5,803.6 459.5,802.7 460.5,802.5 461.5,802.7 462.5,803 463.5,803.9 464.5,803.8 465.5,802.3 466.5,801.8 467.5,801 468.5,801.4 469.5,803 470.5,803.7 471.5,803.9 472.5,801.8 473.5,798.4 474.5,796.4 475.5,795.5 476.5,793 477.5,790.9 478.5,790.9 479.5,790 480.5,787.8 481.5,786.4 482.5,785.8 483.5,786 484.5,785.4 485.5,784.5 486.5,784 487.5,783.3 488.5,782.5 489.5,781.6 490.5,780.6 491.5,779.3 492.5,778.8 493.5,779.2 494.5,778.7 495.5,778 496.5,776.8 497.5,776.6 498.5,775.9 499.5,774.1 500.5,773.6 501.5,774.5 502.5,774.2 503.5,773.6 504.5,773.2 505.5,772.9 506.5,772.5 507.5,772.2 508.5,771.8 509.5,771.3 510.5,771.1 511.5,770.8 512.5,770.4 513.5,769.7 514.5,769.1 515.5,768.9 516.5,767.5 517.5,768.3 518.5,768.4 519.5,768.3 520.5,768.4 521.5,768.2 522.5,767.5 523.5,767.3 524.5,767.8 525.5,767.4 526.5,765.5 527.5,765.2 528.5,766.5 529.5,767.4 530.5,768.6 531.5,769.3 532.5,769.7 533.5,770.3 534.5,771.1 535.5,771.7 536.5,772.3 537.5,772.9 538.5,773.4 539.5,774.1 540.5,774.7 541.5,775.2 542.5,774.4 543.5,772.8 544.5,771.6 544.5,779 543.5,779.8 542.5,781 541.5,780.7 540.5,780.4 539.5,780.1 538.5,780 537.5,779.9 536.5,779.5 535.5,779.3 534.5,778 533.5,776.6 532.5,776.4 531.5,776.3 530.5,775.7 529.5,774.5 528.5,773.9 527.5,774.3 526.5,775.2 525.5,775.3 524.5,774.6 523.5,774.5 522.5,774.6 521.5,774.7 520.5,774.8 519.5,774.9 518.5,776.5 517.5,776.7 516.5,776.7 515.5,776.1 514.5,776.4 513.5,777.6 512.5,778.1 511.5,778.1 510.5,778.2 509.5,778.4 508.5,779.1 507.5,779.6 506.5,780.1 505.5,780.5 504.5,781.1 503.5,781.7 502.5,782.2 501.5,783.1 500.5,783.8 499.5,784.4 498.5,785.2 497.5,786 496.5,786.8 495.5,787.7 494.5,788.4 493.5,789.2 492.5,790.3 491.5,791 490.5,791.2 489.5,792.4 488.5,792.5 487.5,792.9 486.5,794.5 485.5,795.2 484.5,795.3 483.5,796.9 482.5,797.5 481.5,796.9 480.5,797.2 479.5,797.6 478.5,798.5 477.5,800.3 476.5,802.3 475.5,803.2 474.5,805 473.5,807.2 472.5,808.9 471.5,810.8 470.5,812.1 469.5,812.7 468.5,813.1 467.5,814.3 466.5,814.3 465.5,813.6 464.5,813.9 463.5,814 462.5,813.9 461.5,813.7 460.5,813.5 459.5,813.2 458.5,813 457.5,813.3 456.5,813.1 455.5,812.7 454.5,811.8 453.5,811.4 452.5,811.3 451.5,811.2 450.5,810.8 449.5,811.1 448.5,811.6 447.5,812.3 446.5,812.8 445.5,813.3 444.5,813.8 443.5,814.6 442.5,816.5 441.5,817.4 440.5,817.9 439.5,816.6 438.5,816.7 437.5,817.4 436.5,817.7 435.5,818.2 434.5,819.2 433.5,819.1 432.5,818.7 431.5,819 430.5,819.5 429.5,820.1 428.5,820.5 427.5,820.7 426.5,821.7 425.5,822.5 424.5,822 423.5,819.7 422.5,819 421.5,819.4 420.5,819.4 419.5,819.1 418.5,818.5 417.5,819.2 416.5,818.5 415.5,818.1 414.5,817.9 413.5,818 412.5,818.3 411.5,818.7 410.5,819.7 409.5,820.2 408.5,820.8 407.5,821.1 406.5,821.5 405.5,823.8 404.5,827 403.5,829.6 402.5,832.1 401.5,834.8 400.5,838.7 399.5,841.1 398.5,842.5 397.5,841 396.5,841.5 395.5,841.4 394.5,840.9 393.5,840.8 392.5,841.6 391.5,841.3 390.5,840.2 389.5,841 388.5,839.4 387.5,839.3 386.5,841.5 385.5,841.3 384.5,839.1 383.5,837.6 382.5,837.3 381.5,838.2 380.5,840.8 379.5,841 378.5,839.7 377.5,842.6 376.5,843 375.5,840.1 374.5,839.7 373.5,840.1 372.5,840.5 371.5,840.9 370.5,841.2 369.5,841.4 368.5,841.7 367.5,842.1 366.5,842.7 365.5,842.6 364.5,843 363.5,844.9 362.5,844.8 361.5,842.4 360.5,842.3 359.5,844.4 358.5,844.4 357.5,842.3 356.5,841.8 355.5,842.2 354.5,842.8 353.5,845.2 352.5,845 351.5,842.4 350.5,843.4 349.5,843.9 348.5,844.7 347.5,843.9 346.5,840.8 345.5,839.9 344.5,840.1 343.5,840.1 342.5,840.4 341.5,840.1 340.5,839.3 339.5,838.6 338.5,837.3 337.5,837.3 336.5,840.5 335.5,840.8 334.5,841.1 333.5,842.3 332.5,843.9 331.5,846.4 330.5,848.2 329.5,850.4 328.5,853.4 327.5,854.5 326.5,854.2 325.5,852.7 324.5,852.9 323.5,854.7 322.5,854.9 321.5,853.2 320.5,853.1 319.5,853.8 318.5,854.2 317.5,854.7 316.5,855 315.5,855.1 314.5,855.6 313.5,856.8 312.5,857.6 311.5,859 310.5,858.7 309.5,855.5 308.5,855.2 307.5,856.4 306.5,855.3 305.5,855.1 304.5,855.3 303.5,855.8 302.5,856.2 301.5,856.9 300.5,858.5 299.5,858.4 298.5,858.2 297.5,857.6 296.5,857.4 295.5,857.7 294.5,859.6 293.5,858 292.5,859.1 291.5,857.1 290.5,856.8 289.5,857.6 288.5,857.8 287.5,857.6 286.5,856.6 285.5,858.6 284.5,858.9 283.5,857.8 282.5,857 281.5,855.6 280.5,855.4 279.5,856.2 278.5,855.6 277.5,855.2 276.5,854.6 275.5,855.1 274.5,855.5 273.5,856.2 272.5,857.9 271.5,858.4 270.5,858.4 269.5,860.6 268.5,861.2 267.5,861.2 266.5,862.5 265.5,859.7 264.5,859.6 263.5,861.9 262.5,862.3 261.5,860.8 260.5,860.9 259.5,861.8 258.5,862.6 257.5,862.6 256.5,863.6 255.5,866.4 254.5,866.7 253.5,864.4 252.5,864.4 251.5,865.4 250.5,866.5 249.5,867.4 248.5,869 247.5,869.6 246.5,869.2 245.5,867.5 244.5,866.9 243.5,866.3 242.5,866.3 241.5,866.7 240.5,868.2 239.5,867.2 238.5,867.6 237.5,866.8 236.5,866.4 235.5,866.8 234.5,868.3 233.5,866.5 232.5,867.5 231.5,868.9 230.5,869 229.5,868.2 228.5,866 227.5,865.7 226.5,866.5 225.5,865.7 224.5,866.2 223.5,868.7 222.5,866.8 221.5,866.8 220.5,869.9 219.5,869.8 218.5,866.6 217.5,865.1 216.5,866.4 215.5,866.5 214.5,865.8 213.5,866.1 212.5,868.2 211.5,868.3 210.5,866.9 209.5,866.2 208.5,865.1 207.5,865 206.5,866 205.5,865.9 204.5,864.7 203.5,863.7 202.5,864.7 201.5,868.2 200.5,869 199.5,867.6 198.5,866.7 197.5,865.4 196.5,865.6 195.5,866.4 194.5,868 193.5,869.3 192.5,868.5 191.5,869.3 190.5,872.2 189.5,871.3 188.5,871.3 187.5,872.4 186.5,875.5 185.5,875.8 184.5,872.1 183.5,870.4 182.5,870.1 181.5,870.5 180.5,870.4 179.5,869.4 178.5,868.8 177.5,869 176.5,870 175.5,870.2 174.5,870 173.5,869.3 172.5,868.2 171.5,868.1 170.5,868.9 169.5,868.8 168.5,868.6 167.5,868.4 166.5,867.2 165.5,866.9 164.5,866.9 163.5,867.1 162.5,867.1 161.5,867.2 160.5,867 159.5,866.4 158.5,866.2"/>
<polyline fill="none" stroke="#cb1616" stroke-width="7.2" stroke-linejoin="round" stroke-linecap="round" points="542.1,777.2 542.5,776.7 543.1,777.6 543.6,774.7 544.1,774.4 544.5,771.7 544.8,773.9 545.2,769.8 545.5,769.8 545.9,768.5 546.2,765.7 546.6,765.7 547,765.5 547.3,763 547.7,763.1 548,761 548.4,761 548.7,760.7 549.1,756.9 549.5,756.9 549.9,755 550.4,753.6 550.9,753.3 551.4,752.4 552,751.5 552.5,750.4 553.1,747.3 553.6,747.5 554.1,745.2 554.7,746 555.2,745.3 555.8,743.8 556.3,742.1 556.9,741.8 557.5,741.1 558.3,740 559.1,738.2 559.9,737.4 560.7,737.8 561.5,735.9 562.3,735.2 563.1,734.2 563.9,733.7 564.7,732.8 565.5,731.2 566.3,730.3 567.2,729.5 568.1,729.2 569.1,728.9 570.2,726.7 571.2,728.4 572.2,725.7 573.3,726 574.3,724.5 575.3,724.3 576.4,724 577.4,723.9 578.4,723.1 579.5,723.1 580.7,722 581.9,723.3 583.1,720.7 584.3,722 585.5,721.9 586.7,721.2 587.9,721.4 589.1,720.7 590.2,721.6 591.4,721 592.6,722.1 593.7,722.2 594.8,722.6 596,722.8 597.1,722.4 598.2,724.1 599.4,724.6 600.5,724.1 601.6,724 602.6,724.9 603.7,726.8 604.7,725.4 605.8,727.5 606.8,727.6 607.8,729 608.9,727.8 610,729.6 611,728.3 612.2,729.2 613.3,729.7 614.3,727.7 615.3,728.7 616.1,726.5 616.6,726.1 617,726.2 617.4,724 617.8,722.5 618.2,719.2 618.6,719.2 618.9,719 619.3,717 619.7,715.7 620.2,715.7 620.7,713.1 621.1,712.2 621.6,712.5 622.1,712.5 622.6,709.2"/>
<polyline fill="none" stroke="#cb1616" stroke-width="5.9" stroke-linejoin="round" stroke-linecap="round" points="621.1,712.2 621.6,712.5 622.1,712.5 622.6,709.2 623.1,708.8 623.6,708 624.1,706 624.7,704.8 625.3,704.8 626.1,702.7 626.9,702 627.7,703.2 628.4,699.3 629.2,701.4 630,700.1 630.8,697.6 631.6,698.1 632.4,696.5 633.3,694.8 634.2,694.3 635.2,693.5 636.2,694.7 637.3,691.9 638.3,691.2 639.3,691.2 640.3,690.4 641.3,691.9 642.4,689.2 643.4,688.5 644.5,687.9 645.6,687.4 646.7,686 647.8,687.1 648.9,686 650,685.8 651,686.4 652,685.6 652.7,684.5 653.5,682.2 654.2,681.9 654.9,680.6 655.6,679.8 656.3,678.9 657,677.6 657.7,678 658.5,675.7 659.4,676.6 660.4,675 661.3,673.9 662.2,673.6 663.1,672.2 664.1,671.4 665.1,671.8 666.1,670.3 667.3,673.5 668.4,668.9 669.6,668.5 670.7,670.3 671.9,668.6 673.1,668.2 674.3,667.6 675.4,668 676.6,667.5 677.8,668.7 679,667.6 680.2,668.1 681.4,668.6 682.6,668.3 683.8,667.6 684.9,666.9 685.9,666 686.9,665.3 687.8,666.3 688.7,664.5 689.7,663.8 690.6,663.5 691.5,662.8 692.2,662.5 692.9,661.1 693.5,659.5 694,657.7 694.6,657.9 695.1,656.4 695.7,655.4 696.2,653.7 696.8,653.5 697.3,652.9 697.8,651 698.3,650.5 698.7,648.9 699.2,647.5 699.7,647.6 700.1,645.4 700.6,644.7 701,642.2 701.5,642.9 702,640.8 702.4,639.9 702.9,638.6 703.3,638 703.7,636.2 704.1,634.7 704.5,634.5 704.9,633.5 705.3,631.7 705.7,631.5 706.1,630.7 706.4,628.1 706.8,627.9 707.2,626.8 707.6,624.1 708,623.2 708.4,621.3 708.7,622.9 709.1,620.4 709.5,619.3 709.9,618.9 710.3,618.6 710.7,616.5 711.1,616.3 711.5,614.9 711.9,615.7 712.3,610.9 712.8,610.2 713.2,608.8 713.6,608.8 714,606.5 714.4,606.6 714.9,603.4 715.3,604.6 715.7,603 716.1,602.7 716.5,600.9 717,599.4 717.4,598.4 717.8,595.4 718.2,595.7 718.7,594.9 719.1,595 719.6,592.6 720,590.1 720.5,592 720.9,588.4 721.4,588.1 721.8,586.1 722.2,583 722.7,585.3 723.2,583.2 723.8,583.2 724.4,581 725.1,581 725.7,580.8 726.4,579 727,577.3 727.6,576 728.3,575.4 728.9,573.3 729.6,573.5 730.2,572.9 730.8,570.2 731.5,569.3 732.1,570.7 732.7,568.3 733.4,568.7 734,566.7 734.6,565.8 735.3,564.3 735.9,564.5 736.6,563.3 737.3,561.1 737.9,558.7 738.6,558.1 739.3,558.1 739.9,556.4 740.6,556.6 741.3,555.5 741.9,554.6 742.3,554"/>
<line x1="624.4" y1="44.4" x2="624.4" y2="984" stroke="#303030" stroke-width="2.6" stroke-dasharray="7.6 4.88" stroke-dashoffset="2.6"/>
<g stroke="#3a3a3a" stroke-width="2.6" fill="none">
<rect x="159.9" y="44.4" width="582.7" height="291"/>
<rect x="159.9" y="403.4" width="582.7" height="580.8"/>
</g>
<path d="M209.8 44.4V48.6M209.8 335.4V331.2M209.8 403.4V407.6M209.8 984.2V980M259.8 44.4V48.6M259.8 335.4V331.2M259.8 403.4V407.6M259.8 984.2V980M309.7 44.4V48.6M309.7 335.4V331.2M309.7 403.4V407.6M309.7 984.2V980M359.7 44.4V48.6M359.7 335.4V331.2M359.7 403.4V407.6M359.7 984.2V980M409.6 44.4V52.9M409.6 335.4V326.9M409.6 403.4V411.9M409.6 984.2V975.7M459.6 44.4V48.6M459.6 335.4V331.2M459.6 403.4V407.6M459.6 984.2V980M509.5 44.4V48.6M509.5 335.4V331.2M509.5 403.4V407.6M509.5 984.2V980M559.5 44.4V48.6M559.5 335.4V331.2M559.5 403.4V407.6M559.5 984.2V980M609.4 44.4V48.6M609.4 335.4V331.2M609.4 403.4V407.6M609.4 984.2V980M659.4 44.4V52.9M659.4 335.4V326.9M659.4 403.4V411.9M659.4 984.2V975.7M709.3 44.4V48.6M709.3 335.4V331.2M709.3 403.4V407.6M709.3 984.2V980M159.9 286.9H168.9M159.9 238.4H168.9M159.9 189.9H168.9M159.9 141.4H168.9M159.9 92.9H168.9M742.6 311.1H733.1M742.6 286.9H733.1M742.6 262.6H733.1M742.6 238.4H733.1M742.6 214.1H733.1M742.6 189.9H733.1M742.6 165.6H733.1M742.6 141.4H733.1M742.6 117.1H733.1M742.6 92.9H733.1M742.6 68.6H733.1M159.9 933.1H165.4M742.6 933.1H738.1M159.9 896.8H165.4M742.6 896.8H738.1M159.9 868.6H165.4M742.6 868.6H738.1M159.9 845.6H165.4M742.6 845.6H738.1M159.9 826.2H165.4M742.6 826.2H738.1M159.9 809.4H165.4M742.6 809.4H738.1M159.9 794.5H165.4M742.6 794.5H738.1M159.9 781.2H169.9M742.6 781.2H733.6M159.9 693.8H165.4M742.6 693.8H738.1M159.9 642.7H165.4M742.6 642.7H738.1M159.9 606.4H165.4M742.6 606.4H738.1M159.9 578.2H165.4M742.6 578.2H738.1M159.9 555.2H165.4M742.6 555.2H738.1M159.9 535.8H165.4M742.6 535.8H738.1M159.9 519H165.4M742.6 519H738.1M159.9 504.1H165.4M742.6 504.1H738.1M159.9 490.8H169.9M742.6 490.8H733.6" stroke="#3a3a3a" stroke-width="2.2" fill="none"/>
<g stroke-width="5" stroke-linecap="round">
<line x1="415" y1="237.5" x2="436.5" y2="237.5" stroke="#69d32c"/>
<line x1="415" y1="262.8" x2="436.5" y2="262.8" stroke="#e0801f"/>
<line x1="415" y1="287.6" x2="436.5" y2="287.6" stroke="#8522f2"/>
<line x1="415" y1="313" x2="436.5" y2="313" stroke="#0a0a0a"/>
<line x1="398" y1="428.9" x2="419.5" y2="428.9" stroke="#cb1616"/>
<line x1="398" y1="469.9" x2="419.5" y2="469.9" stroke="#1c12f2"/>
</g>
<g font-family="'Liberation Serif', serif" font-weight="bold" fill="#0a0a0a" stroke="#0a0a0a" stroke-width="0.45" stroke-linejoin="round">
<text x="159.9" y="33.8" font-size="30.5" text-anchor="middle">0</text>
<text x="409.6" y="33.8" font-size="30.5" text-anchor="middle">60</text>
<text x="659.4" y="33.8" font-size="30.5" text-anchor="middle">120</text>
<text x="155" y="345.7" font-size="30.5" text-anchor="end">0</text>
<text x="155" y="297.2" font-size="30.5" text-anchor="end">5</text>
<text x="155" y="248.7" font-size="30.5" text-anchor="end">10</text>
<text x="155" y="200.2" font-size="30.5" text-anchor="end">15</text>
<text x="155" y="151.7" font-size="30.5" text-anchor="end">20</text>
<text x="155" y="103.2" font-size="30.5" text-anchor="end">25</text>
<text x="155" y="54.7" font-size="30.5" text-anchor="end">30</text>
<text x="745.5" y="60.3" font-size="30.5" text-anchor="start">(120)</text>
<text x="746" y="102.8" font-size="30.5" text-anchor="start">100</text>
<text x="746" y="225.8" font-size="30.5" text-anchor="start">50</text>
<text x="746.5" y="346.2" font-size="30.5" text-anchor="start">0</text>
<text x="0" y="0" font-size="30" text-anchor="middle" transform="translate(105.8 187.3) rotate(-90)">Temperature (°C)</text>
<text x="0" y="0" font-size="29.5" text-anchor="middle" transform="translate(821.3 185.2) rotate(90)">Relative humidity (%)</text>
<text x="0" y="0" font-size="29.8" text-anchor="middle" transform="translate(106 666.7) rotate(-90)">Current (A)</text>
<text x="447.6" y="1050.5" font-size="28.5" text-anchor="middle">Time / min</text>
<text x="159.9" y="1014.6" font-size="30.5" text-anchor="middle">0</text>
<text x="409.6" y="1014.6" font-size="30.5" text-anchor="middle">60</text>
<text x="659.4" y="1014.6" font-size="30.5" text-anchor="middle">120</text>
<text x="94" y="505.2" font-size="30.5"><tspan letter-spacing="-1.6">10</tspan><tspan font-size="17" font-weight="normal" dy="-16.6" dx="0.8" stroke-width="0.7">–</tspan><tspan font-size="19">11</tspan></text>
<text x="94" y="795.7" font-size="30.5"><tspan letter-spacing="-1.6">10</tspan><tspan font-size="17" font-weight="normal" dy="-16.6" dx="0.8" stroke-width="0.7">–</tspan><tspan font-size="19">12</tspan></text>
<text x="171" y="243.9" font-size="24.1" text-anchor="start">Air temperature</text>
<text x="171" y="268.5" font-size="24.1" text-anchor="start">Sensor temperature</text>
<text x="171" y="293.7" font-size="24.1" text-anchor="start">Air RH</text>
<text x="171" y="318.2" font-size="24.1" text-anchor="start">RH at sensor surface</text>
<text x="172.6" y="435.9" font-size="23.7" text-anchor="start">Electrode gap 0.5µm</text>
<text x="172.6" y="476.9" font-size="23.7" text-anchor="start">Electrode gap 10µm</text>
<text x="630.5" y="143.6" font-size="22.3" text-anchor="start" textLength="101.5" lengthAdjust="spacingAndGlyphs">Dew point</text>
<text x="639" y="177" font-size="22.3" text-anchor="start" textLength="67" lengthAdjust="spacingAndGlyphs">15.3°C</text>
</g>
<g font-family="'Liberation Serif', serif" fill="#1a1a1a" stroke="#1a1a1a" stroke-width="0.5" stroke-linejoin="round">
<text x="11.6" y="62" font-size="32" text-anchor="start">a)</text>
<text x="12" y="424" font-size="32" text-anchor="start">b)</text>
</g>
</svg>
</body></html>
